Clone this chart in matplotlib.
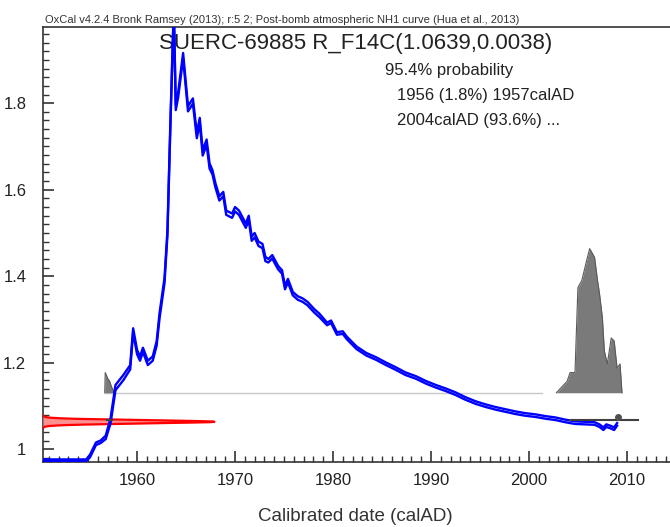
import numpy as np
import matplotlib
matplotlib.use("Agg")
import matplotlib.pyplot as plt
from matplotlib.ticker import MultipleLocator, FormatStrFormatter

plt.rcParams["font.family"] = ["Liberation Sans", "DejaVu Sans"]

# --- DATA ---
# post-bomb NH1 calibration curve (year, F14C, 1 sigma)
curve_year = [1950.4, 1954.8, 1955.2, 1955.8, 1956.3, 1956.8, 1957.3, 1957.8,
              1958.6, 1959.3, 1959.6, 1960.0, 1960.3, 1960.6, 1961.1, 1961.6,
              1962.0, 1962.3, 1962.8, 1963.1, 1963.4, 1963.75, 1963.95, 1964.2,
              1964.7, 1965.2, 1965.7, 1966.1, 1966.4, 1966.7, 1967.1, 1967.4,
              1967.7, 1968.0, 1968.4, 1968.8, 1969.1, 1969.7, 1970.0, 1970.4,
              1970.8, 1971.1, 1971.4, 1971.7, 1972.0, 1972.4, 1972.8, 1973.1,
              1973.4, 1973.8, 1974.4, 1974.8, 1975.1, 1975.4, 1975.9, 1976.4,
              1976.9, 1977.4, 1978.1, 1978.6, 1979.4, 1979.8, 1980.4, 1981.0,
              1981.4, 1982.4, 1983.4, 1984.4, 1985.4, 1986.4, 1987.4, 1988.5,
              1989.5, 1990.5, 1991.5, 1992.5, 1993.5, 1994.6, 1995.6, 1996.6,
              1997.6, 1998.6, 1999.6, 2000.7, 2001.7, 2002.7, 2003.7, 2004.7,
              2005.7, 2006.7, 2007.2, 2007.6, 2007.9, 2008.3, 2008.7, 2009.0]
curve_f14c = [0.975, 0.975, 0.985, 1.013, 1.018, 1.028, 1.067, 1.143,
              1.166, 1.190, 1.275, 1.225, 1.210, 1.230, 1.200, 1.210,
              1.245, 1.310, 1.390, 1.500, 1.750, 2.020, 1.790, 1.820,
              1.910, 1.787, 1.805, 1.725, 1.760, 1.685, 1.710, 1.655,
              1.640, 1.610, 1.580, 1.590, 1.547, 1.540, 1.555, 1.547,
              1.530, 1.517, 1.535, 1.487, 1.495, 1.475, 1.470, 1.440,
              1.436, 1.445, 1.420, 1.410, 1.374, 1.390, 1.360, 1.350,
              1.345, 1.337, 1.320, 1.310, 1.290, 1.295, 1.268, 1.270,
              1.258, 1.235, 1.220, 1.210, 1.198, 1.187, 1.175, 1.166,
              1.155, 1.146, 1.138, 1.129, 1.118, 1.108, 1.101, 1.095,
              1.090, 1.085, 1.081, 1.078, 1.074, 1.071, 1.066, 1.062,
              1.061, 1.060, 1.055, 1.048, 1.055, 1.052, 1.048, 1.058]
curve_sigma = [0.002, 0.002, 0.003, 0.003, 0.003, 0.004, 0.006, 0.006,
               0.006, 0.005, 0.005, 0.005, 0.005, 0.005, 0.005, 0.005,
               0.005, 0.006, 0.006, 0.006, 0.006, 0.006, 0.006, 0.006,
               0.006, 0.006, 0.006, 0.006, 0.006, 0.006, 0.006, 0.006,
               0.005, 0.005, 0.005, 0.005, 0.005, 0.005, 0.005, 0.005,
               0.005, 0.005, 0.005, 0.005, 0.005, 0.005, 0.005, 0.005,
               0.004, 0.004, 0.004, 0.004, 0.004, 0.004, 0.004, 0.004,
               0.004, 0.004, 0.004, 0.004, 0.003, 0.003, 0.003, 0.003,
               0.003, 0.003, 0.003, 0.003, 0.003, 0.003, 0.003, 0.003,
               0.003, 0.003, 0.003, 0.003, 0.003, 0.003, 0.003, 0.003,
               0.003, 0.003, 0.003, 0.003, 0.003, 0.003, 0.003, 0.003,
               0.003, 0.003, 0.003, 0.003, 0.003, 0.003, 0.003, 0.003]

# measurement
sample_name = "SUERC-69885"
sample_f14c = 1.0639
sample_err = 0.0038

# calibrated probability (relative), two parts
small_year = [1956.7, 1956.75, 1957.0, 1957.2, 1957.4, 1957.7]
small_prob = [0.0, 0.14, 0.10, 0.08, 0.04, 0.0]
big_year = [2002.8, 2003.9, 2004.2, 2004.7, 2005.0, 2005.4, 2005.9, 2006.2,
            2006.7, 2007.0, 2007.2, 2007.5, 2007.7, 2008.0, 2008.4, 2008.7,
            2009.0, 2009.3, 2009.5]
big_prob = [0.0, 0.08, 0.14, 0.14, 0.73, 0.78, 0.92, 1.0,
            0.94, 0.78, 0.69, 0.52, 0.29, 0.20, 0.38, 0.36,
            0.17, 0.20, 0.0]

# 95.4% ranges
range_start = [1956.9, 2004.2]
range_end = [1957.4, 2011.1]
range_text = ["95.4% probability", "1956 (1.8%) 1957calAD", "2004calAD (93.6%) ..."]

header = ("OxCal v4.2.4 Bronk Ramsey (2013); r:5 2; "
          "Post-bomb atmospheric NH1 curve (Hua et al., 2013)")

# --- PLOT ---
XMIN, XMAX = 1950.4, 2014.4
YMIN, YMAX = 0.971, 1.976
DIST_BASE = 1.131
DIST_HEIGHT = 0.333
RANGE_Y = 1.067
MEAS_LEN = 17.5

fig = plt.figure(figsize=(6.7, 5.27), dpi=100)
ax = fig.add_axes([0.0642, 0.1233, 0.9358, 0.8255])
ax.set_xlim(XMIN, XMAX)
ax.set_ylim(YMIN, YMAX)

cy = np.array(curve_year)
cf = np.array(curve_f14c)
cs = np.array(curve_sigma)
ax.plot(cy, cf + cs, color="#0000ff", lw=1.7, zorder=4)
ax.plot(cy, cf - cs, color="#0000ff", lw=1.7, zorder=4)

# measurement distribution along the y axis
yy = np.linspace(sample_f14c - 4 * sample_err, sample_f14c + 4 * sample_err, 200)
px = XMIN + MEAS_LEN * np.exp(-0.5 * ((yy - sample_f14c) / sample_err) ** 2)
ax.fill_betweenx(yy, XMIN, px, color="#ff9090", lw=0, zorder=3)
ax.plot(px, yy, color="#ff0000", lw=1.6, zorder=3)

# calibrated distribution
ax.plot([small_year[0], big_year[0] - 1.5], [DIST_BASE, DIST_BASE],
        color="#c8c8c8", lw=1, zorder=2)
for yrs, pr in [(small_year, small_prob), (big_year, big_prob)]:
    top = DIST_BASE + DIST_HEIGHT * np.array(pr)
    ax.fill_between(yrs, DIST_BASE, top, color="#7a7a7a", lw=0, zorder=2)
    ax.plot(yrs, top, color="#5a5a5a", lw=0.8, zorder=2)

# range bars
for s, e in zip(range_start, range_end):
    ax.plot([s, e], [RANGE_Y, RANGE_Y], color="#404040", lw=1.5, zorder=5)
ax.plot(2009.1, RANGE_Y + 0.008, "o", color="#505050", ms=4, zorder=5)

# text
ax.text(0.498, 0.962, f"{sample_name} R_F14C({sample_f14c:.4f},{sample_err:.4f})",
        transform=ax.transAxes, ha="center", va="center", fontsize=16, color="#222222")
ax.text(0.545, 0.901, range_text[0], transform=ax.transAxes,
        ha="left", va="center", fontsize=12, color="#222222")
for i, t in enumerate(range_text[1:]):
    ax.text(0.565, 0.842 - 0.056 * i, t, transform=ax.transAxes,
            ha="left", va="center", fontsize=12, color="#222222")
fig.text(0.067, 0.962, header, fontsize=8, color="#333333", ha="left", va="center")
fig.text(0.53, 0.019, "Calibrated date (calAD)", fontsize=13.5, color="#333333",
         ha="center", va="center")

# axes style
ax.spines["right"].set_visible(False)
for s in ["left", "bottom", "top"]:
    ax.spines[s].set_color("#333333")
    ax.spines[s].set_linewidth(1.2)
ax.xaxis.set_major_locator(MultipleLocator(10))
ax.xaxis.set_minor_locator(MultipleLocator(1))
ax.yaxis.set_major_locator(MultipleLocator(0.2))
ax.yaxis.set_minor_locator(MultipleLocator(0.02))
ax.yaxis.set_major_formatter(FormatStrFormatter("%g"))
ax.tick_params(which="major", direction="in", length=8, width=1.2, color="#333333",
               labelsize=12, labelcolor="#222222", pad=8)
ax.tick_params(which="minor", direction="in", length=4, width=1, color="#333333")
ax.tick_params(axis="y", which="major", pad=12)

fig.savefig("out.png", dpi=100)
